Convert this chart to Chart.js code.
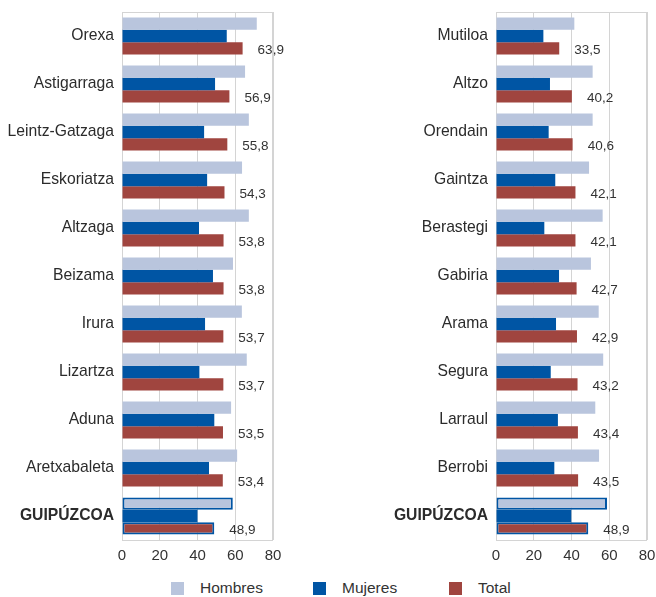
<!DOCTYPE html>
<html>
<head>
<meta charset="utf-8">
<script src="https://cdn.jsdelivr.net/npm/chart.js@4.4.1/dist/chart.umd.min.js"></script>
<style>
  body { margin: 0; background: #fff; width: 656px; height: 597px; position: relative; overflow: hidden; }
  #leftBox { position: absolute; left: 0; top: 0; }
  #rightBox { position: absolute; left: 380px; top: 0; }
  .legendItem { position: absolute; top: 579px; font-family: "Liberation Sans", Arial, sans-serif; font-size: 15.5px; color: #333; line-height: 18px; }
  .legendBox { position: absolute; width: 13px; height: 13px; top: 582px; }
</style>
</head>
<body>
<div id="leftBox"><canvas id="leftChart" width="300" height="575"></canvas></div>
<div id="rightBox"><canvas id="rightChart" width="276" height="575"></canvas></div>

<div class="legendBox" style="left:171px;background:#b9c5dd"></div>
<div class="legendItem" style="left:200px">Hombres</div>
<div class="legendBox" style="left:313px;background:#0055a4"></div>
<div class="legendItem" style="left:342px">Mujeres</div>
<div class="legendBox" style="left:449px;background:#a0453f"></div>
<div class="legendItem" style="left:478px">Total</div>

<script>
// data
var leftCategories = ['Orexa', 'Astigarraga', 'Leintz-Gatzaga', 'Eskoriatza', 'Altzaga', 'Beizama', 'Irura', 'Lizartza', 'Aduna', 'Aretxabaleta', 'GUIPÚZCOA'];
var leftHombres = [71.4, 65.2, 67.2, 63.6, 67.2, 58.8, 63.5, 66.1, 57.8, 61.0, 58.7];
var leftMujeres = [55.5, 49.3, 43.5, 45.1, 40.8, 48.2, 44.0, 41.0, 48.9, 46.1, 40.0];
var leftTotal = [63.9, 56.9, 55.8, 54.3, 53.8, 53.8, 53.7, 53.7, 53.5, 53.4, 48.9];

var rightCategories = ['Mutiloa', 'Altzo', 'Orendain', 'Gaintza', 'Berastegi', 'Gabiria', 'Arama', 'Segura', 'Larraul', 'Berrobi', 'GUIPÚZCOA'];
var rightHombres = [41.5, 51.2, 51.2, 49.3, 56.5, 50.3, 54.4, 56.8, 52.6, 54.6, 58.8];
var rightMujeres = [25.1, 28.6, 27.9, 31.4, 25.6, 33.4, 31.8, 29.0, 32.8, 30.9, 39.9];
var rightTotal = [33.5, 40.2, 40.6, 42.1, 42.1, 42.7, 42.9, 43.2, 43.4, 43.5, 48.9];

var xMin = 0, xMax = 80, xStep = 20;

var colHombres = '#b9c5dd';
var colMujeres = '#0055a4';
var colTotal = '#a0453f';
var colOutline = '#0055a4';
var fontFamily = '"Liberation Sans", Arial, sans-serif';

// frame round the plot area
var framePlugin = {
  id: 'frame',
  beforeDatasetsDraw: function (chart) {
    var a = chart.chartArea, ctx = chart.ctx;
    ctx.save();
    ctx.strokeStyle = '#d4d4d4';
    ctx.lineWidth = 1;
    ctx.strokeRect(a.left + 0.5, a.top + 0.5, a.right - a.left - 1, a.bottom - a.top);
    ctx.restore();
  }
};

// Total value written next to each group
var totalLabelPlugin = {
  id: 'totalLabel',
  afterDatasetsDraw: function (chart) {
    var meta = chart.getDatasetMeta(2);
    var values = chart.data.datasets[2].data;
    var ctx = chart.ctx;
    ctx.save();
    ctx.font = '13.5px ' + fontFamily;
    ctx.fillStyle = '#333';
    ctx.textAlign = 'left';
    ctx.textBaseline = 'middle';
    meta.data.forEach(function (bar, i) {
      ctx.fillText(values[i].toFixed(1).replace('.', ','), bar.x + 15, bar.y + 2);
    });
    ctx.restore();
  }
};

function lastOnly(value, other) {
  return function (c) { return c.dataIndex === 10 ? value : other; };
}

function makeChart(id, cats, hombres, mujeres, total, yWidth, padRight) {
  var last = cats.length - 1;
  return new Chart(document.getElementById(id), {
    type: 'bar',
    data: {
      labels: cats,
      datasets: [
        { label: 'Hombres', data: hombres, backgroundColor: colHombres,
          borderColor: lastOnly(colOutline, colHombres), borderWidth: lastOnly(2, 0), borderSkipped: false },
        { label: 'Mujeres', data: mujeres, backgroundColor: colMujeres, borderWidth: 0 },
        { label: 'Total', data: total, backgroundColor: colTotal,
          borderColor: lastOnly(colOutline, colTotal), borderWidth: lastOnly(2, 0), borderSkipped: false }
      ]
    },
    options: {
      indexAxis: 'y',
      responsive: false,
      animation: false,
      devicePixelRatio: 1,
      layout: { padding: { top: 12, right: padRight, bottom: 5, left: 0 } },
      datasets: { bar: { categoryPercentage: 0.77, barPercentage: 1.0 } },
      plugins: { legend: { display: false }, tooltip: { enabled: false } },
      scales: {
        x: {
          min: xMin, max: xMax,
          ticks: { stepSize: xStep, padding: 7, color: '#333', font: { family: fontFamily, size: 15 } },
          grid: { color: '#d4d4d4', drawTicks: false },
          border: { display: false },
          afterFit: function (scale) {
            scale.height = 30;
            scale.paddingLeft = 0;
            scale.paddingRight = 0;
          }
        },
        y: {
          ticks: {
            padding: 8,
            color: '#2b2b2b',
            font: function (c) {
              return c.index === last
                ? { family: fontFamily, size: 15.7, weight: 'bold' }
                : { family: fontFamily, size: 15.7 };
            }
          },
          grid: { display: false, drawTicks: false },
          border: { display: false },
          afterFit: function (scale) {
            scale.width = yWidth;
            scale.paddingTop = 0;
            scale.paddingBottom = 0;
          }
        }
      }
    },
    plugins: [framePlugin, totalLabelPlugin]
  });
}

var leftChart = makeChart('leftChart', leftCategories, leftHombres, leftMujeres, leftTotal, 122, 27);
var rightChart = makeChart('rightChart', rightCategories, rightHombres, rightMujeres, rightTotal, 116, 9);
</script>
</body>
</html>
